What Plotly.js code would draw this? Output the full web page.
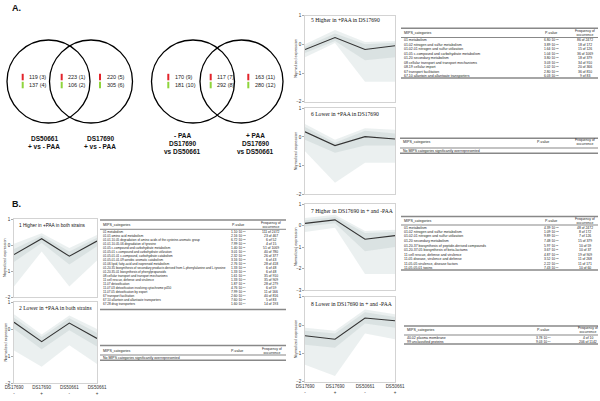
<!DOCTYPE html>
<html><head><meta charset="utf-8">
<script src="https://cdn.plot.ly/plotly-3.0.1.min.js"></script>
<style>html,body{margin:0;padding:0;background:#fff}#chart{width:600px;height:401px}</style>
</head><body><div id="chart"></div>
<script>
// ---------------- DATA ----------------
const strains = ['DS17690','DS17690','DS50661','DS50661'];
const paa = ['-','+','-','+'];
const xpos = [0,1,2,3];

// Venn counts (up / down, with group index)
const vennLeftUp = [119, 223, 220];
const vennLeftUpId = [3, 1, 5];
const vennLeftDown = [137, 106, 305];
const vennLeftDownId = [4, 2, 6];
const vennRightUp = [170, 117, 163];
const vennRightUpId = [9, 7, 11];
const vennRightDown = [181, 292, 280];
const vennRightDownId = [10, 8, 12];

// Cluster profiles: mean line, outer envelope, dense core
const c1Mean=[-0.37,0.24,-0.43,0.15], c1Hi=[0.05,0.45,-0.12,0.38], c1Lo=[-1.6,-0.25,-1.6,-0.6], c1CHi=[-0.15,0.36,-0.25,0.28], c1CLo=[-0.65,0.08,-0.75,-0.05];
const c2Mean=[0.25,-0.47,0.22,-0.35], c2Hi=[0.55,-0.2,0.5,0.0], c2Lo=[-0.8,-1.4,-0.6,-1.3], c2CHi=[0.42,-0.3,0.4,-0.15], c2CLo=[0.0,-0.75,-0.05,-0.65];
const c5Mean=[-0.18,0.24,-0.18,-0.05], c5Hi=[0.0,0.5,0.08,0.12], c5Lo=[-0.45,0.05,-1.3,-1.3], c5CHi=[-0.08,0.38,0.0,0.06], c5CLo=[-0.3,0.12,-0.55,-0.45];
const c6Mean=[0.18,-0.3,0.01,-0.07], c6Hi=[0.45,-0.1,0.3,0.25], c6Lo=[-0.5,-1.6,-0.9,-0.9], c6CHi=[0.35,-0.2,0.22,0.12], c6CLo=[-0.1,-0.55,-0.3,-0.3];
const c7Mean=[0.1,0.26,-0.64,-0.47], c7Hi=[0.35,0.5,-0.25,-0.2], c7Lo=[-0.3,-0.1,-2.25,-2.25], c7CHi=[0.25,0.4,-0.35,-0.3], c7CLo=[-0.05,0.1,-1.2,-1.0];
const c8Mean=[-0.38,-0.5,0.25,0.15], c8Hi=[-0.1,-0.2,0.55,0.38], c8Lo=[-1.4,-1.8,-0.3,-0.5], c8CHi=[-0.2,-0.3,0.45,0.28], c8CLo=[-0.7,-0.8,0.05,-0.1];

// Tables
const t1Cat = ['01 metabolism','01.01 amino acid metabolism','01.01.10.05 degradation of amino acids of the cysteine-aromatic group','01.01.10.05.06 degradation of tyrosine','01.05 c-compound and carbohydrate metabolism','01.05.01 c-compound and carbohydrate utilization','01.05.01.01 c-compound, carbohydrate catabolism','01.05.01.01.09 aerobic aromatic catabolism','01.06 lipid, fatty-acid and isoprenoid metabolism','01.20.35 biosynthesis of secondary products derived from L-phenylalanine and L-tyrosine','01.20.35.01 biosynthesis of phenylpropanoids','08 cellular transport and transport mechanisms','11 cell rescue, defense and virulence','11.07 detoxification','11.07.03 detoxification involving cytochrome p450','11.07.05 detoxification by export','67 transport facilitation','67.10 allantoin and allantoate transporters','67.28 drug transporters'];
const t1Pm = ['1.10','2.16','6.72','7.99','1.40','3.01','2.32','3.16','2.76','1.33','1.33','1.61','1.33','1.87','4.76','7.99','2.60','7.60','1.60'];
const t1Pe = [-17,-03,-05,-05,-11,-07,-05,-05,-05,-03,-03,-07,-07,-11,-04,-05,-04,-05,-04];
const t1Freq = ['111 of 2472','23 of 467','6 of 52','4 of 15','51 of 1069','40 of 780','26 of 377','6 of 43','28 of 418','6 of 48','6 of 48','35 of 910','35 of 909','28 of 279','6 of 59','11 of 166','40 of 816','5 of 83','14 of 193'];

const t5Cat = ['01 metabolism','01.02 nitrogen and sulfur metabolism','01.02.01 nitrogen and sulfur utilization','01.05 c-compound and carbohydrate metabolism','01.20 secondary metabolism','08 cellular transport and transport mechanisms','08.19 cellular import','67 transport facilitation','67.10 allantoin and allantoate transporters'];
const t5Pm = ['6.80','3.89','1.64','1.04','3.80','3.03','1.02','2.80','6.03'];
const t5Pe = [-05,-05,-05,-05,-05,-05,-05,-05,-05];
const t5Freq = ['86 of 2472','18 of 172','15 of 126','36 of 1069','18 of 379','34 of 910','20 of 366','36 of 810','9 of 83'];

const t7Cat = ['01 metabolism','01.02 nitrogen and sulfur metabolism','01.02.01 nitrogen and sulfur utilization','01.20 secondary metabolism','01.20.37 biosynthesis of peptide-derived compounds','01.20.37.05 biosynthesis of beta-lactams','11 cell rescue, defense and virulence','11.05 disease, virulence and defense','11.05.05 virulence, disease factors','11.05.05.01 toxins'];
const t7Pm = ['4.39','1.09','9.89','7.48','5.97','3.67','4.87','3.52','2.22','7.43'];
const t7Pe = [-05,-03,-04,-07,-11,-11,-05,-05,-07,-09];
const t7Freq = ['48 of 2472','8 of 172','7 of 126','15 of 379','10 of 59','10 of 37','19 of 909','11 of 268','11 of 171','10 of 60'];

const t8Cat = ['40.02 plasma membrane','99 unclassified proteins'];
const t8Pm = ['3.78','9.03'];
const t8Pe = [-04,-04];
const t8Freq = ['4 of 10','206 of 1142'];

const noCat = 'No MIPS categories significantly overrepresented';

// ---------------- LAYOUT HELPERS ----------------
const W=600, H=401;
const X = p => p/W, Y = p => 1 - p/H;
const SANS = 'Liberation Sans, Arial, sans-serif';
const SERIF = 'Liberation Serif, Times New Roman, serif';
const annotations = [], shapes = [], traces = [];
const layout = {width:W, height:H, margin:{l:0,r:0,t:0,b:0}, paper_bgcolor:'#fff', plot_bgcolor:'#fff', showlegend:false, annotations, shapes};

function txt(x,y,text,o={}){
  annotations.push({xref:'paper',yref:'paper',x:X(x),y:Y(y),text,showarrow:false,
    xanchor:o.xa||'left',yanchor:o.ya||'middle',textangle:o.angle||0,
    font:{family:o.family||SANS,size:o.size||4,color:o.color||'#222'}});
}
function hline(x0,x1,y,w,c){
  shapes.push({type:'line',xref:'paper',yref:'paper',x0:X(x0),x1:X(x1),y0:Y(y),y1:Y(y),line:{color:c||'#666',width:w}});
}

// ---------------- PANEL A : VENN ----------------
txt(10,8,'<b>A.</b>',{size:9,color:'#111'});
txt(10,204,'<b>B.</b>',{size:9,color:'#111'});
const R = 41.5, CY = 81.5;
[48.5, 91, 193, 241.5].forEach(cx=>{
  shapes.push({type:'circle',xref:'paper',yref:'paper',x0:X(cx-R),x1:X(cx+R),y0:Y(CY+R),y1:Y(CY-R),line:{color:'#000',width:1.3}});
});
function vennText(barXs, up, upId, down, downId){
  barXs.forEach((bx,i)=>{
    shapes.push({type:'rect',xref:'paper',yref:'paper',x0:X(bx-1),x1:X(bx+1),y0:Y(80.3),y1:Y(73.8),line:{width:0},fillcolor:'#e3242b'});
    shapes.push({type:'rect',xref:'paper',yref:'paper',x0:X(bx-1),x1:X(bx+1),y0:Y(88.3),y1:Y(81.8),line:{width:0},fillcolor:'#8fd43c'});
    txt(bx+4.5,77.3, up[i]+' ('+upId[i]+')',{size:5.5});
    txt(bx+4.5,85.3, down[i]+' ('+downId[i]+')',{size:5.5});
  });
}
vennText([22.7,61.7,100],vennLeftUp,vennLeftUpId,vennLeftDown,vennLeftDownId);
vennText([168.3,210.7,248.3],vennRightUp,vennRightUpId,vennRightDown,vennRightDownId);
const LB = {xa:'center',size:6.5,color:'#111'};
txt(44.3,138.5,'<b>DS50661</b>',LB);
txt(44.3,146.5,'<b>+ vs - PAA</b>',LB);
txt(100,138.5,'<b>DS17690</b>',LB);
txt(100,146.5,'<b>+ vs - PAA</b>',LB);
txt(182.7,135,'<b>- PAA</b>',LB);
txt(182.7,143,'<b>DS17690</b>',LB);
txt(182.7,151,'<b>vs DS50661</b>',LB);
txt(255.7,135,'<b>+ PAA</b>',LB);
txt(255.7,143,'<b>DS17690</b>',LB);
txt(255.7,151,'<b>vs DS50661</b>',LB);

// ---------------- PANEL B : CLUSTER PROFILES ----------------
const panels = [
  {title:'1 Higher in +PAA in both strains', font:SANS, fs:4.7, box:[14,97,219,297], range:[-2,1], showX:false, d:[c1Mean,c1Hi,c1Lo,c1CHi,c1CLo], ty:225, tx:17},
  {title:'2 Lower in +PAA in both strains', font:SERIF, fs:5.6, box:[14,97,302,383], range:[-2,1], showX:true, d:[c2Mean,c2Hi,c2Lo,c2CHi,c2CLo], ty:308, tx:17},
  {title:'5 Higher in +PAA in DS17690', font:SERIF, fs:5.6, box:[305,395,15.7,101.7], range:[-2,1], showX:false, d:[c5Mean,c5Hi,c5Lo,c5CHi,c5CLo], ty:19.5, tx:309},
  {title:'6 Lower in +PAA in DS17690', font:SERIF, fs:5.6, box:[305,395,108.3,194.3], range:[-2,1], showX:false, d:[c6Mean,c6Hi,c6Lo,c6CHi,c6CLo], ty:113.5, tx:309},
  {title:'7 Higher in DS17690 in + and -PAA', font:SERIF, fs:5.6, box:[305,395,204,290], range:[-3,1], showX:false, d:[c7Mean,c7Hi,c7Lo,c7CHi,c7CLo], ty:211, tx:309},
  {title:'8 Lower in DS17690 in + and -PAA', font:SERIF, fs:5.6, box:[305,395,296.7,381.7], range:[-2,1], showX:true, d:[c8Mean,c8Hi,c8Lo,c8CHi,c8CLo], ty:304, tx:309},
];
panels.forEach((p,i)=>{
  const n = i+1, xa = n===1?'x':'x'+n, ya = n===1?'y':'y'+n;
  const [mean,hi,lo,chi,clo] = p.d;
  const revX = xpos.slice().reverse();
  traces.push({x:xpos.concat(revX), y:hi.concat(lo.slice().reverse()), xaxis:xa, yaxis:ya, type:'scatter', mode:'lines', fill:'toself', fillcolor:'rgba(226,233,233,0.7)', line:{width:0}, hoverinfo:'skip'});
  traces.push({x:xpos.concat(revX), y:chi.concat(clo.slice().reverse()), xaxis:xa, yaxis:ya, type:'scatter', mode:'lines', fill:'toself', fillcolor:'rgba(206,216,216,0.6)', line:{width:0}, hoverinfo:'skip'});
  traces.push({x:xpos, y:mean, xaxis:xa, yaxis:ya, type:'scatter', mode:'lines', line:{color:'#333', width:1.1}});
  const [bx0,bx1,by0,by1] = p.box;
  layout[n===1?'xaxis':'xaxis'+n] = {domain:[X(bx0),X(bx1)], anchor:ya, range:[0,3], showgrid:false, zeroline:false,
    showline:true, mirror:true, linecolor:'#c8c8c8', linewidth:0.8, fixedrange:true,
    tickvals:xpos, ticktext:strains.map((s,k)=>s+'<br>'+paa[k]), showticklabels:p.showX, ticks:'',
    tickfont:{family:SANS,size:4.5,color:'#333'}};
  layout[n===1?'yaxis':'yaxis'+n] = {domain:[Y(by1),Y(by0)], anchor:xa, range:p.range, dtick:1, showgrid:false, zeroline:false,
    showline:true, mirror:true, linecolor:'#c8c8c8', linewidth:0.8, ticks:'outside', ticklen:2, tickcolor:'#aaa', fixedrange:true,
    tickfont:{family:SANS,size:4.5,color:'#333'}};
  txt(p.tx, p.ty, p.title, {family:p.font, size:p.fs, color:'#111'});
  txt(bx0-9, (by0+by1)/2, 'Normalized expression', {xa:'center', angle:-90, size:3.8, color:'#444'});
});

// ---------------- TABLES ----------------
function pv(m,e){ const s = e<0 ? '-'+String(-e).padStart(2,'0') : String(e); return m+'·10<sup>'+s+'</sup>'; }
function table(o){
  const fs = o.fs || 3.5;
  hline(o.x0,o.x1,o.top,1.4,'#888');
  txt(o.x0+1,o.head,'MIPS_categories',{size:3.6});
  txt(o.pc,o.head,'P-value',{xa:'center',size:3.6});
  txt(o.fc,o.head,'Frequency of<br>occurrence',{xa:'center',size:3.4});
  hline(o.x0,o.x1,o.rule,0.7,'#555');
  o.cat.forEach((c,i)=>{
    const y = o.row0 + i*o.step;
    txt(o.x0+1,y,c,{size:fs});
    if(o.pm) txt(o.pc,y,pv(o.pm[i],o.pe[i]),{xa:'center',size:3.3});
    if(o.fr) txt(o.fc,y,o.fr[i],{xa:'center',size:3.4});
  });
  hline(o.x0,o.x1,o.bottom,1.4,'#888');
}
table({x0:100,x1:286,pc:238,fc:271,top:220,head:225,rule:229.3,row0:232,step:4,bottom:309.5,cat:t1Cat,pm:t1Pm,pe:t1Pe,fr:t1Freq,fs:3.1});
table({x0:100,x1:286,pc:237,fc:272,top:345.5,head:350.5,rule:355,row0:357.8,step:4,bottom:360.3,cat:[noCat]});
table({x0:401,x1:598,pc:551,fc:585,top:28.3,head:32.7,rule:37.5,row0:40.3,step:4.5,bottom:78,cat:t5Cat,pm:t5Pm,pe:t5Pe,fr:t5Freq});
table({x0:400,x1:598,pc:543,fc:585,top:138.3,head:142,rule:148,row0:150.7,step:4,bottom:153.3,cat:[noCat]});
table({x0:401,x1:598,pc:551,fc:585,top:216.5,head:220.5,rule:225,row0:227.5,step:4.5,bottom:270,cat:t7Cat,pm:t7Pm,pe:t7Pe,fr:t7Freq});
table({x0:404,x1:598,pc:543,fc:588,top:326,head:330,rule:335,row0:338,step:4,bottom:344,cat:t8Cat,pm:t8Pm,pe:t8Pe,fr:t8Freq});

Plotly.newPlot('chart', traces, layout, {displayModeBar:false, staticPlot:true});
</script>
</body></html>
